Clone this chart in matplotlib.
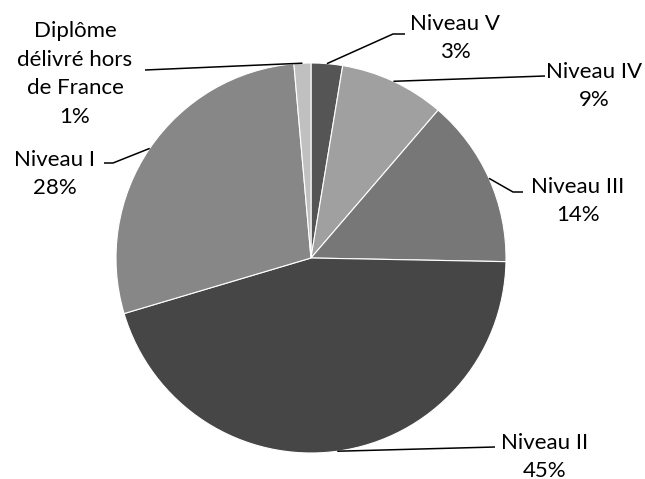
import numpy as np
import matplotlib
matplotlib.use('agg')
import matplotlib.pyplot as plt

plt.rcParams['font.family'] = ['Lato', 'DejaVu Sans']

labels = ['Niveau V', 'Niveau IV', 'Niveau III', 'Niveau II', 'Niveau I',
          'Diplôme\ndélivré hors\nde France']
shares = [2.6, 8.7, 14.0, 45.1, 28.2, 1.4]
colors = ['#555555', '#a0a0a0', '#777777', '#464646', '#878787', '#c0c0c0']

W, H = 645, 479
cx, cy, r = 311, H - 258, 195

# label block centres and leader elbow points, in pixels from top-left
text_pos = [(455, 38), (594, 86), (578, 201), (545, 457), (55, 174), (75, 74)]
elbows = [[(393, 34), (405, 34)],
          [(545, 76)],
          [(513, 192), (523, 192)],
          [(495, 447)],
          [(113, 163), (104, 163)],
          [(145, 70)]]

fig = plt.figure(figsize=(W / 100, H / 100), dpi=100)
ax = fig.add_axes([0, 0, 1, 1])
wedges, _ = ax.pie(shares, colors=colors, startangle=90, counterclock=False,
                   center=(cx, cy), radius=r,
                   wedgeprops=dict(edgecolor='white', linewidth=0.8))
ax.set_xlim(0, W)
ax.set_ylim(0, H)
ax.set_aspect('equal')
ax.axis('off')

total = sum(shares)
for w, lab, val, (tx, ty), elb in zip(wedges, labels, shares, text_pos, elbows):
    mid = np.deg2rad((w.theta1 + w.theta2) / 2)
    sx, sy = cx + r * np.cos(mid), cy + r * np.sin(mid)
    xs = [sx] + [p[0] for p in elb]
    ys = [sy] + [H - p[1] for p in elb]
    ax.plot(xs, ys, color='black', linewidth=1.1, solid_capstyle='butt')
    pct = '{:.0f}%'.format(val / total * 100)
    ax.text(tx, H - ty, lab + '\n' + pct, ha='center', va='center',
            multialignment='center', fontsize=16, linespacing=1.55,
            color='black')

fig.savefig('out.png', dpi=100)
